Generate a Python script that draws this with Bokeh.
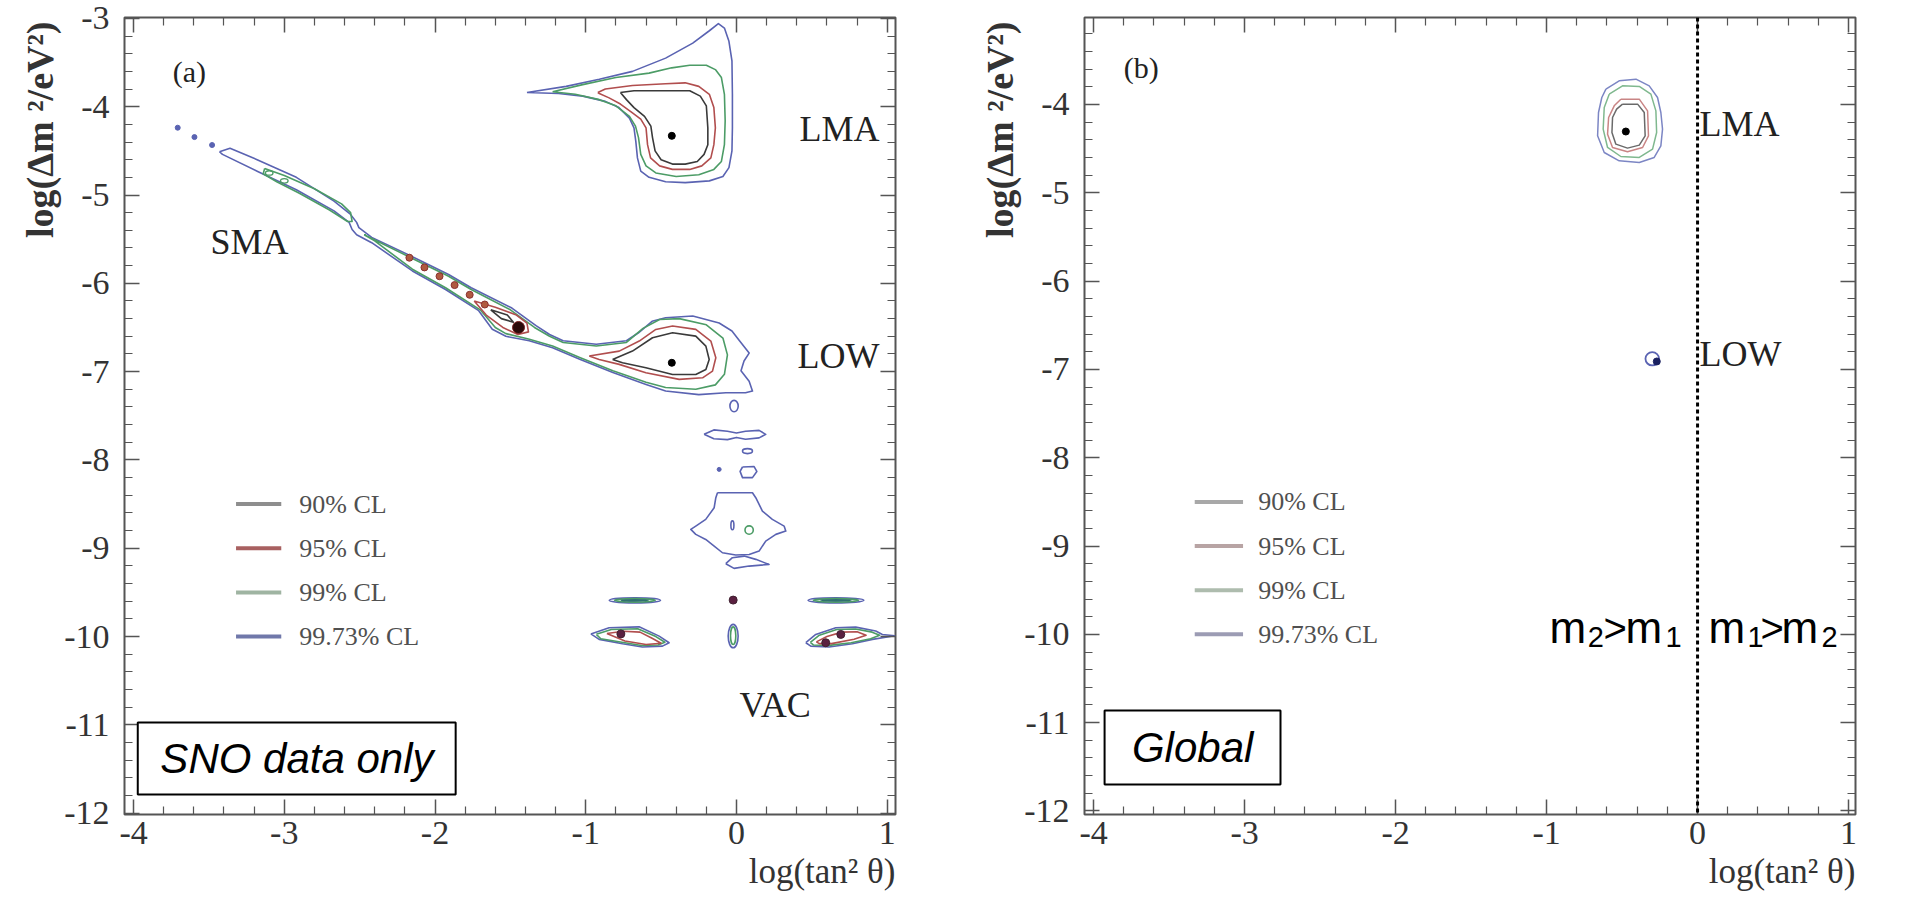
import math
from bokeh.plotting import figure
from bokeh.layouts import row
from bokeh.models import (FixedTicker, LinearAxis, Label, BoxAnnotation, Title,
                          CustomJSTickFormatter, Span, Range1d)
from bokeh.embed import file_html
from bokeh.resources import INLINE

SERIF = "Liberation Serif"
SANS = "Liberation Sans"

# ---------------- axis ticks / labels ----------------
X_TICKS = [-4, -3, -2, -1, 0, 1]
Y_TICKS_A = [-12, -11, -10, -9, -8, -7, -6, -5, -4, -3]
Y_TICKS_B = [-12, -11, -10, -9, -8, -7, -6, -5, -4]
X_TITLE = "log(tan² θ)"
Y_TITLE = "log(Δm ²/eV²)"
CL_LABELS = ["90% CL", "95% CL", "99% CL", "99.73% CL"]
LEGEND_Y = [-8.5, -9.0, -9.5, -10.0]
ORDER_LEFT = ["m", "2", ">", "m", "1"]
ORDER_RIGHT = ["m", "1", ">", "m", "2"]

# ---------------- panel (a): SNO data only ----------------
LMA_9973_X = [-1.39, -1.13, -0.91, -0.69, -0.47, -0.29, -0.18, -0.12, -0.08, -0.05, -0.03, -0.027, -0.027, -0.03,
              -0.05, -0.09, -0.18, -0.34, -0.47, -0.58, -0.635, -0.657, -0.668, -0.68, -0.71, -0.78, -0.87, -1.02, -1.18]
LMA_9973_Y = [-3.84, -3.77, -3.69, -3.60, -3.45, -3.28, -3.14, -3.06, -3.11, -3.26, -3.48, -3.86, -4.24, -4.50,
              -4.69, -4.79, -4.84, -4.86, -4.85, -4.80, -4.73, -4.58, -4.39, -4.24, -4.13, -4.01, -3.94, -3.88, -3.85]
LMA_99_X = [-1.22, -1.02, -0.80, -0.58, -0.43, -0.31, -0.20, -0.14, -0.10, -0.08, -0.075, -0.08, -0.10, -0.15,
            -0.25, -0.40, -0.535, -0.60, -0.635, -0.65, -0.67, -0.71, -0.80, -0.91, -1.07]
LMA_99_Y = [-3.83, -3.75, -3.67, -3.62, -3.56, -3.53, -3.53, -3.58, -3.67, -3.86, -4.16, -4.43, -4.62, -4.71,
            -4.77, -4.79, -4.75, -4.67, -4.54, -4.35, -4.22, -4.11, -3.99, -3.92, -3.86]
LMA_95_X = [-0.92, -0.87, -0.69, -0.47, -0.34, -0.25, -0.18, -0.15, -0.14, -0.15, -0.17, -0.23, -0.31, -0.425,
            -0.51, -0.57, -0.59, -0.60, -0.635, -0.69, -0.77, -0.845, -0.91]
LMA_95_Y = [-3.84, -3.80, -3.76, -3.74, -3.73, -3.77, -3.86, -4.01, -4.24, -4.43, -4.58, -4.67, -4.71, -4.71,
            -4.67, -4.58, -4.43, -4.24, -4.14, -4.07, -3.97, -3.90, -3.85]
LMA_90_X = [-0.77, -0.68, -0.47, -0.31, -0.24, -0.20, -0.19, -0.19, -0.215, -0.26, -0.34, -0.425, -0.50, -0.54,
            -0.557, -0.568, -0.61, -0.68, -0.73]
LMA_90_Y = [-3.84, -3.82, -3.82, -3.82, -3.88, -3.99, -4.24, -4.43, -4.54, -4.62, -4.65, -4.65, -4.60, -4.50,
            -4.35, -4.22, -4.11, -4.01, -3.92]

BAND_9973_X = [-3.43, -3.36, -3.18, -2.92, -2.67, -2.56, -2.52, -2.505, -2.42, -2.16, -1.91, -1.76, -1.49, -1.33,
               -1.24, -1.15, -0.93, -0.73, -0.65, -0.56, -0.47, -0.29, -0.115, -0.03, 0.02, 0.084, 0.05, 0.03,
               0.084, 0.106, 0.06, -0.07, -0.25, -0.47, -0.60, -0.82, -1.04, -1.22, -1.375, -1.53, -1.62, -1.71,
               -1.93, -2.15, -2.42, -2.52, -2.55, -2.57, -2.67, -2.92, -3.18, -3.41]
BAND_9973_Y = [-4.51, -4.47, -4.60, -4.80, -5.07, -5.22, -5.31, -5.37, -5.48, -5.69, -5.90, -6.05, -6.28, -6.48,
               -6.58, -6.65, -6.69, -6.65, -6.56, -6.43, -6.39, -6.37, -6.45, -6.54, -6.65, -6.79, -6.88, -6.99,
               -7.11, -7.22, -7.24, -7.24, -7.26, -7.22, -7.145, -7.01, -6.86, -6.73, -6.65, -6.60, -6.52, -6.31,
               -6.07, -5.86, -5.54, -5.45, -5.39, -5.31, -5.18, -4.94, -4.73, -4.54]
BAND_99_X = [-2.47, -2.16, -1.91, -1.76, -1.50, -1.34, -1.24, -1.15, -0.93, -0.73, -0.62, -0.51, -0.38, -0.20,
             -0.09, -0.06, -0.08, -0.14, -0.27, -0.47, -0.60, -0.82, -1.04, -1.22, -1.38, -1.53, -1.60, -1.70,
             -1.93, -2.15, -2.40]
BAND_99_Y = [-5.45, -5.71, -5.92, -6.07, -6.30, -6.50, -6.60, -6.67, -6.71, -6.67, -6.51, -6.41, -6.40, -6.47,
             -6.62, -6.81, -7.03, -7.15, -7.20, -7.18, -7.12, -6.99, -6.84, -6.71, -6.63, -6.57, -6.50, -6.30,
             -6.05, -5.84, -5.52]
SMA_99_X = [-3.13, -3.00, -2.80, -2.62, -2.56, -2.55, -2.58, -2.70, -2.90, -3.05, -3.14]
SMA_99_Y = [-4.70, -4.78, -4.93, -5.10, -5.20, -5.30, -5.30, -5.17, -4.98, -4.85, -4.76]
SMA_95_X = [-1.74, -1.60, -1.46, -1.39, -1.38, -1.45, -1.55, -1.66]
SMA_95_Y = [-6.20, -6.27, -6.36, -6.45, -6.55, -6.58, -6.50, -6.36]
SMA_90_X = [-1.63, -1.52, -1.48, -1.56]
SMA_90_Y = [-6.30, -6.36, -6.44, -6.40]
LOW_95_X = [-0.977, -0.778, -0.645, -0.535, -0.424, -0.27, -0.17, -0.137, -0.159, -0.225, -0.38, -0.601, -0.778, -0.911]
LOW_95_Y = [-6.824, -6.768, -6.654, -6.522, -6.484, -6.522, -6.654, -6.843, -6.994, -7.07, -7.088, -7.013, -6.918, -6.862]
LOW_90_X = [-0.822, -0.69, -0.557, -0.424, -0.27, -0.203, -0.181, -0.203, -0.27, -0.424, -0.601, -0.756]
LOW_90_Y = [-6.862, -6.767, -6.616, -6.56, -6.598, -6.711, -6.862, -6.975, -7.032, -7.032, -6.956, -6.90]

SMA_RED_DOTS_X = [-2.17, -2.07, -1.97, -1.87, -1.77, -1.67]
SMA_RED_DOTS_Y = [-5.71, -5.82, -5.92, -6.02, -6.13, -6.24]
TAIL_DOTS_X = [-3.707, -3.596, -3.479]
TAIL_DOTS_Y = [-4.238, -4.344, -4.434]
SMA_GREEN_X = [-3.10, -3.00]
SMA_GREEN_Y = [-4.75, -4.84]

VAC_BOW_X = [-0.215, -0.15, -0.06, 0.0, 0.06, 0.15, 0.194, 0.15, 0.06, 0.0, -0.06, -0.15]
VAC_BOW_Y = [-7.71, -7.66, -7.675, -7.695, -7.675, -7.665, -7.71, -7.75, -7.765, -7.745, -7.77, -7.76]
VAC_PENT_X = [0.04, 0.117, 0.135, 0.106, 0.04, 0.024]
VAC_PENT_Y = [-8.08, -8.075, -8.13, -8.20, -8.20, -8.13]
VAC_BELL_X = [-0.126, 0.106, 0.128, 0.172, 0.238, 0.316, 0.327, 0.261, 0.194, 0.150, 0.084, -0.005, -0.093,
              -0.148, -0.204, -0.270, -0.303, -0.270, -0.204, -0.148, -0.137]
VAC_BELL_Y = [-8.371, -8.371, -8.428, -8.579, -8.673, -8.749, -8.806, -8.843, -8.919, -9.032, -9.07, -9.077,
              -9.051, -8.975, -8.900, -8.843, -8.787, -8.749, -8.673, -8.541, -8.428]
VAC_LENS_X = [-0.071, -0.027, 0.051, 0.128, 0.216, 0.084, -0.016]
VAC_LENS_Y = [-9.175, -9.107, -9.089, -9.126, -9.183, -9.202, -9.228]
VACL_9973_X = [-0.966, -0.845, -0.646, -0.513, -0.447, -0.491, -0.624, -0.756, -0.911]
VACL_9973_Y = [-9.97, -9.90, -9.89, -9.995, -10.07, -10.108, -10.119, -10.082, -10.032]
VACL_99_X = [-0.93, -0.83, -0.655, -0.535, -0.475, -0.52, -0.63, -0.76, -0.90]
VACL_99_Y = [-9.975, -9.92, -9.912, -10.0, -10.065, -10.095, -10.102, -10.065, -10.025]
VACL_95_X = [-0.86, -0.75, -0.64, -0.56, -0.50, -0.60, -0.74]
VACL_95_Y = [-9.965, -9.94, -9.95, -10.02, -10.075, -10.09, -10.05]
VACR_9973_X = [0.46, 0.526, 0.659, 0.791, 0.924, 0.968, 1.05, 0.902, 0.769, 0.614, 0.493]
VACR_9973_Y = [-10.07, -9.976, -9.90, -9.893, -9.938, -9.976, -9.99, -10.032, -10.082, -10.119, -10.108]
VACR_99_X = [0.49, 0.55, 0.665, 0.79, 0.90, 0.95, 0.89, 0.76, 0.615, 0.51]
VACR_99_Y = [-10.065, -9.985, -9.92, -9.915, -9.95, -9.985, -10.025, -10.07, -10.10, -10.095]
VACR_95_X = [0.53, 0.60, 0.70, 0.80, 0.86, 0.78, 0.63, 0.55]
VACR_95_Y = [-10.06, -10.0, -9.95, -9.945, -9.985, -10.03, -10.08, -10.08]

# small islands (centre, extent) for each CL level
ISL_9973_X = [-0.016, 0.073, -0.027, -0.674, 0.66, -0.022]
ISL_9973_Y = [-7.39, -7.90, -8.74, -9.59, -9.59, -9.995]
ISL_9973_W = [0.055, 0.066, 0.02, 0.34, 0.37, 0.066]
ISL_9973_H = [0.13, 0.057, 0.10, 0.06, 0.06, 0.265]
ISL_99_X = [0.084, -0.674, 0.66, -0.022]
ISL_99_Y = [-8.794, -9.59, -9.59, -9.99]
ISL_99_W = [0.055, 0.27, 0.30, 0.035]
ISL_99_H = [0.094, 0.04, 0.04, 0.20]
ISL_90_X = [-0.674, 0.66]
ISL_90_Y = [-9.59, -9.59]
ISL_90_W = [0.18, 0.2]
ISL_90_H = [0.015, 0.015]
VAC_DARK_X = [-0.022, 0.692, 0.592, -0.767]
VAC_DARK_Y = [-9.587, -9.976, -10.07, -9.97]

BEST_A_X = [-0.429, -0.429]
BEST_A_Y = [-4.33, -6.90]
SMA_BLOB_X = [-1.446]
SMA_BLOB_Y = [-6.50]

# ---------------- panel (b): Global ----------------
G_LMA_9973_X = [-0.607, -0.519, -0.408, -0.320, -0.265, -0.243, -0.232, -0.243, -0.287, -0.386, -0.519, -0.618,
                -0.662, -0.656, -0.634]
G_LMA_9973_Y = [-3.826, -3.732, -3.713, -3.789, -3.921, -4.091, -4.279, -4.468, -4.600, -4.657, -4.638, -4.544,
                -4.355, -4.091, -3.921]
G_LMA_99_X = [-0.585, -0.497, -0.386, -0.309, -0.276, -0.271, -0.298, -0.386, -0.508, -0.596, -0.625, -0.618]
G_LMA_99_Y = [-3.883, -3.789, -3.796, -3.883, -4.072, -4.317, -4.506, -4.600, -4.589, -4.487, -4.279, -4.034]
G_LMA_95_X = [-0.508, -0.386, -0.331, -0.325, -0.364, -0.464, -0.563, -0.596, -0.589, -0.552]
G_LMA_95_Y = [-3.940, -3.940, -4.072, -4.355, -4.487, -4.536, -4.487, -4.336, -4.147, -4.015]
G_LMA_90_X = [-0.497, -0.397, -0.353, -0.347, -0.386, -0.464, -0.541, -0.567, -0.563, -0.536]
G_LMA_90_Y = [-3.996, -3.996, -4.091, -4.355, -4.460, -4.494, -4.449, -4.317, -4.147, -4.053]
G_LOW_X = [-0.30]
G_LOW_Y = [-6.88]
G_LOW_W = [0.09]
G_LOW_H = [0.15]
G_BEST_X = [-0.475, -0.27]
G_BEST_Y = [-4.306, -6.91]

C9973, C99, C95, C90 = "#5a63b2", "#4c9c66", "#b14e4e", "#3a3a3a"
G9973, G99, G95, G90 = "#7c86c4", "#7fb88e", "#c98585", "#6a6a6a"
LEG_A = ["#8e8e8e", "#a86060", "#9fb4a2", "#7078aa"]
LEG_B = ["#a8a8a8", "#b8a4a4", "#aebcae", "#9c9cb4"]

XMINOR = [round(-4.2 + 0.2 * i, 2) for i in range(28) if abs(round(-4.2 + 0.2 * i, 2) % 1) > 1e-6]
YMINOR = [round(-12.2 + 0.2 * i, 2) for i in range(48) if abs(round(-12.2 + 0.2 * i, 2) % 1) > 1e-6]


def style_axis(ax, ticks, minor, labels, standoff=10):
    ax.ticker = FixedTicker(ticks=ticks, minor_ticks=minor)
    ax.axis_line_color = None
    ax.major_tick_in = 15
    ax.major_tick_out = 0
    ax.minor_tick_in = 8
    ax.minor_tick_out = 0
    ax.major_tick_line_color = "#555555"
    ax.major_tick_line_width = 1.5
    ax.minor_tick_line_color = "#555555"
    ax.minor_tick_line_width = 1.2
    if labels:
        ax.formatter = CustomJSTickFormatter(code="return tick.toString()")
        ax.major_label_text_font = SERIF
        ax.major_label_text_font_size = "34px"
        ax.major_label_text_color = "#333333"
        ax.major_label_standoff = standoff
    else:
        ax.formatter = CustomJSTickFormatter(code="return ''")
        ax.major_label_text_font_size = "1px"
        ax.major_label_standoff = 0


def make_fig(xr, yr, yticks, borders):
    l, r, t, b = borders
    p = figure(frame_width=771, frame_height=797, x_range=Range1d(*xr), y_range=Range1d(*yr),
               output_backend="svg", toolbar_location=None,
               min_border_left=l, min_border_right=r, min_border_top=t, min_border_bottom=b)
    p.grid.visible = False
    p.outline_line_color = "#555555"
    p.outline_line_width = 2
    style_axis(p.xaxis[0], X_TICKS, XMINOR, True, 7)
    style_axis(p.yaxis[0], yticks, YMINOR, True, 15)
    top = LinearAxis()
    right = LinearAxis()
    p.add_layout(top, "above")
    p.add_layout(right, "right")
    style_axis(top, X_TICKS, XMINOR, False)
    style_axis(right, yticks, YMINOR, False)
    p.add_layout(Title(text=X_TITLE, align="right", text_font=SERIF, text_font_size="35px",
                       text_font_style="normal", text_color="#333333", standoff=6), "below")
    p.add_layout(Title(text=Y_TITLE, align="right", offset=4, text_font=SERIF, text_font_size="38px",
                       text_font_style="bold", text_color="#333333", standoff=2), "left")
    return p


def loop(p, xs, ys, color, width=1.6):
    p.line(xs + xs[:1], ys + ys[:1], line_color=color, line_width=width, line_join="round")


def text(p, x, y, s, size, font=SERIF, align="left", style="normal", color="#222222", baseline="middle"):
    p.add_layout(Label(x=x, y=y, text=s, text_font=font, text_font_size=size, text_align=align,
                       text_baseline=baseline, text_font_style=style, text_color=color))


def legend(p, leg_colors, leg_x0, leg_x1, leg_tx):
    for i, lab in enumerate(CL_LABELS):
        p.line([leg_x0, leg_x1], [LEGEND_Y[i], LEGEND_Y[i]], line_color=leg_colors[i], line_width=4)
        text(p, leg_tx, LEGEND_Y[i], lab, "26px", color="#505050")


def mass_order(p, chars, xs):
    # m, subscript, >, m, subscript ; main baseline at -9.923, subscripts lower
    sizes = ["44px", "29px", "40px", "44px", "29px"]
    ys = [-9.923, -10.025, -9.923, -9.923, -10.025]
    for c, x, y, s in zip(chars, xs, ys, sizes):
        text(p, x, y, c, s, font=SANS, color="black", baseline="alphabetic")


# ---------------- panel (a) ----------------
XR_A = (-4.06, 1.055)
YR_A = (-12.015, -2.99)
pa = make_fig(XR_A, YR_A, Y_TICKS_A, (124, 60, 15, 87))

loop(pa, BAND_9973_X, BAND_9973_Y, C9973)
loop(pa, LMA_9973_X, LMA_9973_Y, C9973)
loop(pa, LMA_99_X, LMA_99_Y, C99)
loop(pa, LMA_95_X, LMA_95_Y, C95)
loop(pa, LMA_90_X, LMA_90_Y, C90)
loop(pa, BAND_99_X, BAND_99_Y, C99)
loop(pa, SMA_99_X, SMA_99_Y, C99)
loop(pa, SMA_95_X, SMA_95_Y, C95)
loop(pa, SMA_90_X, SMA_90_Y, C90)
loop(pa, LOW_95_X, LOW_95_Y, C95)
loop(pa, LOW_90_X, LOW_90_Y, C90)
loop(pa, VAC_BOW_X, VAC_BOW_Y, C9973)
loop(pa, VAC_PENT_X, VAC_PENT_Y, C9973)
loop(pa, VAC_BELL_X, VAC_BELL_Y, C9973)
loop(pa, VAC_LENS_X, VAC_LENS_Y, C9973)
loop(pa, VACL_9973_X, VACL_9973_Y, C9973)
loop(pa, VACL_99_X, VACL_99_Y, C99)
loop(pa, VACL_95_X, VACL_95_Y, C95)
loop(pa, VACR_9973_X, VACR_9973_Y, C9973)
loop(pa, VACR_99_X, VACR_99_Y, C99)
loop(pa, VACR_95_X, VACR_95_Y, C95)
pa.ellipse(x=ISL_9973_X, y=ISL_9973_Y, width=ISL_9973_W, height=ISL_9973_H,
           fill_color=None, line_color=C9973, line_width=1.6)
pa.ellipse(x=ISL_99_X, y=ISL_99_Y, width=ISL_99_W, height=ISL_99_H,
           fill_color=None, line_color=C99, line_width=1.6)
pa.ellipse(x=ISL_90_X, y=ISL_90_Y, width=ISL_90_W, height=ISL_90_H,
           fill_color=None, line_color="#2f6f6f", line_width=1.4)
pa.ellipse(x=SMA_GREEN_X, y=SMA_GREEN_Y, width=[0.05, 0.05], height=[0.05, 0.05],
           fill_color=None, line_color=C99, line_width=1.4)
pa.scatter(SMA_RED_DOTS_X, SMA_RED_DOTS_Y, size=7, fill_color="#b05a40", line_color="#8a3030")
pa.scatter(TAIL_DOTS_X, TAIL_DOTS_Y, size=5, fill_color=C9973, line_color=C9973)
pa.scatter(VAC_DARK_X, VAC_DARK_Y, size=8, fill_color="#5a2040", line_color="#402030")
pa.scatter([-0.115], [-8.107], size=4, fill_color=C9973, line_color=C9973)
pa.scatter(SMA_BLOB_X, SMA_BLOB_Y, size=12, fill_color="#2a0a0a", line_color="#7a2020")
pa.scatter(BEST_A_X, BEST_A_Y, size=7, fill_color="black", line_color="black")

legend(pa, LEG_A, -3.32, -3.02, -2.90)
text(pa, -3.74, -3.60, "(a)", "30px")
text(pa, 0.418, -4.25, "LMA", "36px")
text(pa, 0.405, -6.82, "LOW", "36px")
text(pa, -3.49, -5.53, "SMA", "36px")
text(pa, 0.02, -10.78, "VAC", "36px")
pa.add_layout(BoxAnnotation(left=-3.972, right=-1.863, top=-10.973, bottom=-11.788, fill_color="white",
                            fill_alpha=1.0, line_color="black", line_width=2, line_alpha=1.0))
text(pa, -2.916, -11.38, "SNO data only", "42px", font=SANS, align="center", style="italic", color="black")

# ---------------- panel (b) ----------------
XR_B = (-4.06, 1.046)
YR_B = (-12.04, -3.015)
pb = make_fig(XR_B, YR_B, Y_TICKS_B, (129, 50, 17, 85))

loop(pb, G_LMA_9973_X, G_LMA_9973_Y, G9973, 1.5)
loop(pb, G_LMA_99_X, G_LMA_99_Y, G99, 1.5)
loop(pb, G_LMA_95_X, G_LMA_95_Y, G95, 1.5)
loop(pb, G_LMA_90_X, G_LMA_90_Y, G90, 1.5)
pb.ellipse(x=G_LOW_X, y=G_LOW_Y, width=G_LOW_W, height=G_LOW_H, fill_color=None,
           line_color=C9973, line_width=1.8)
pb.scatter(G_BEST_X, G_BEST_Y, size=7, fill_color=["black", "#1a2060"], line_color=["black", "#1a2060"])
pb.add_layout(Span(location=0, dimension="height", line_color="black", line_width=3, line_dash="4 3"))

legend(pb, LEG_B, -3.33, -3.01, -2.91)
text(pb, -3.80, -3.58, "(b)", "30px")
text(pb, 0.013, -4.22, "LMA", "36px")
text(pb, 0.013, -6.82, "LOW", "36px")
pb.add_layout(BoxAnnotation(left=-3.927, right=-2.762, top=-10.863, bottom=-11.701, fill_color="white",
                            fill_alpha=1.0, line_color="black", line_width=2, line_alpha=1.0))
text(pb, -3.344, -11.28, "Global", "42px", font=SANS, align="center", style="italic", color="black")
mass_order(pb, ORDER_LEFT, [-0.980, -0.728, -0.623, -0.477, -0.212])
mass_order(pb, ORDER_RIGHT, [0.073, 0.331, 0.417, 0.556, 0.821])

layout = row(pa, pb)
open("out.html", "w").write(file_html(layout, INLINE))
